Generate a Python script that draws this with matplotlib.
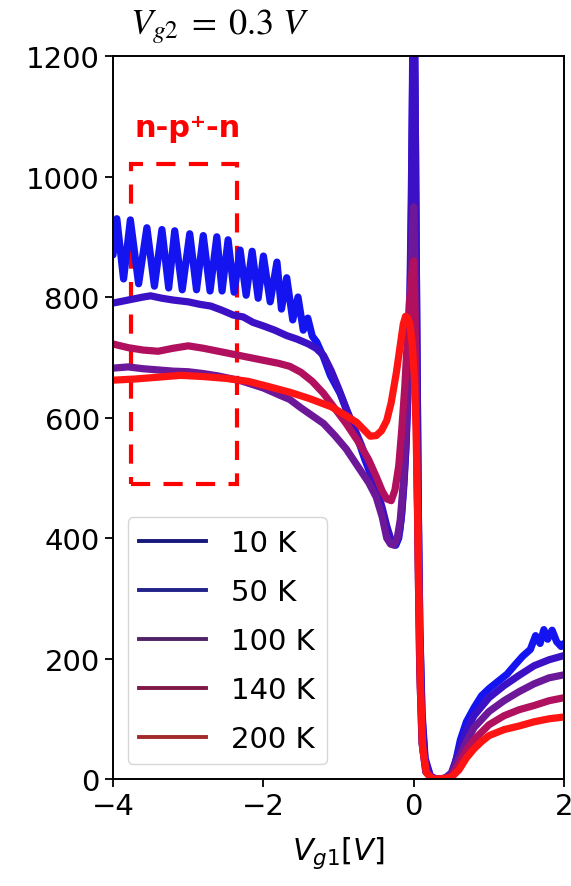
import matplotlib
matplotlib.use("Agg")
import matplotlib.pyplot as plt
from matplotlib.lines import Line2D
from matplotlib.patches import Rectangle

labels = ["10 K", "50 K", "100 K", "140 K", "200 K"]

x10 = [-4.0, -3.95, -3.86, -3.77, -3.66, -3.55, -3.45, -3.35, -3.26, -3.18, -3.08,
       -2.98, -2.89, -2.80, -2.71, -2.62, -2.55, -2.47, -2.39, -2.31, -2.23, -2.15,
       -2.07, -2.00, -1.91, -1.82, -1.76, -1.69, -1.61, -1.54, -1.47, -1.41, -1.35,
       -1.29, -1.2, -1.11, -0.98, -0.87, -0.76, -0.65, -0.54, -0.47, -0.41, -0.36,
       -0.32, -0.28, -0.24, -0.2, -0.17, -0.14, -0.11, -0.09, -0.07, -0.05, -0.03,
       -0.015, 0.0, 0.02, 0.04, 0.06, 0.08, 0.11, 0.15, 0.22, 0.3, 0.4, 0.48, 0.55,
       0.62, 0.7, 0.8, 0.9, 1.0, 1.1, 1.24, 1.35, 1.45, 1.55, 1.62, 1.68, 1.73, 1.78,
       1.84, 1.9, 1.96, 2.0]
y10 = [870, 930, 830, 928, 822, 915, 818, 912, 815, 910, 812,
       905, 812, 902, 810, 900, 810, 895, 808, 878, 803, 876,
       798, 868, 792, 858, 780, 832, 762, 800, 745, 765, 735,
       725, 700, 670, 640, 605, 570, 530, 495, 465, 440, 415,
       400, 392, 388, 400, 430, 480, 540, 600, 680, 780, 950,
       1200, 1450, 1100, 750, 450, 250, 110, 35, 5, -5, -8, 0, 25,
       65, 95, 118, 138, 150, 160, 174, 190, 204, 215, 238, 225, 248, 232,
       247, 228, 220, 225]

x50 = [-4.0, -3.8, -3.6, -3.5, -3.35, -3.2, -3.0, -2.85, -2.7, -2.55, -2.4, -2.27,
       -2.14, -2.0, -1.85, -1.69, -1.55, -1.4, -1.3, -1.2, -1.1, -1.0, -0.9, -0.8,
       -0.7, -0.6, -0.5, -0.42, -0.36, -0.31, -0.27, -0.23, -0.19, -0.16, -0.13,
       -0.1, -0.08, -0.06, -0.04, -0.02, 0.0, 0.02, 0.04, 0.06, 0.08, 0.11, 0.15,
       0.22, 0.3, 0.4, 0.5, 0.6, 0.7, 0.8, 1.0, 1.2, 1.4, 1.6, 1.8, 2.0]
y50 = [790, 795, 800, 802, 798, 795, 792, 788, 785, 778, 770, 767,
       758, 752, 745, 736, 730, 722, 715, 703, 678, 648, 615, 585,
       555, 522, 485, 450, 420, 400, 392, 395, 410, 440, 490,
       560, 640, 740, 900, 1100, 1350, 1100, 750, 450, 250, 100, 30,
       5, 0, 0, 10, 45, 80, 105, 135, 155, 172, 188, 198, 205]

x100 = [-4.0, -3.8, -3.6, -3.4, -3.2, -3.0, -2.8, -2.6, -2.3, -2.0, -1.8, -1.65,
        -1.5, -1.35, -1.2, -1.05, -0.9, -0.75, -0.6, -0.5, -0.42, -0.36, -0.31,
        -0.26, -0.22, -0.18, -0.14, -0.11, -0.08, -0.05, -0.03, -0.015, 0.0, 0.02,
        0.04, 0.06, 0.08, 0.11, 0.16, 0.25, 0.35, 0.45, 0.5, 0.6, 0.7, 0.8, 1.0,
        1.2, 1.4, 1.6, 1.8, 2.0]
y100 = [682, 684, 681, 679, 677, 676, 673, 669, 661, 649, 638, 630,
        616, 603, 590, 570, 548, 520, 492, 468, 435, 400, 390,
        388, 400, 430, 490, 560, 650, 760, 850, 920, 950, 800,
        560, 350, 180, 60, 12, 0, 0, 3, 8, 35, 62, 85, 112,
        130, 145, 158, 168, 173]

x140 = [-4.0, -3.8, -3.6, -3.4, -3.2, -3.0, -2.8, -2.6, -2.4, -2.2, -2.0, -1.8,
        -1.65, -1.5, -1.35, -1.2, -1.05, -0.9, -0.75, -0.6, -0.5, -0.42, -0.36,
        -0.3, -0.25, -0.2, -0.16, -0.12, -0.09, -0.06, -0.03, -0.015, 0.0, 0.02,
        0.04, 0.06, 0.08, 0.11, 0.16, 0.25, 0.35, 0.45, 0.5, 0.6, 0.7, 0.8, 1.0,
        1.2, 1.4, 1.6, 1.8, 2.0]
y140 = [722, 716, 712, 710, 715, 719, 715, 710, 705, 700, 695, 690,
        685, 675, 660, 640, 615, 590, 562, 530, 502, 478, 465,
        462, 480, 520, 580, 650, 720, 790, 830, 850, 860, 740,
        540, 340, 180, 60, 12, 0, 0, 2, 5, 25, 48, 65, 90,
        105, 115, 122, 130, 135]

x200 = [-4.0, -3.7, -3.4, -3.1, -2.8, -2.5, -2.2, -1.95, -1.65, -1.4, -1.1, -0.9,
        -0.76, -0.65, -0.58, -0.5, -0.43, -0.36, -0.3, -0.23, -0.18, -0.14, -0.11,
        -0.08, -0.05, -0.02, 0.01, 0.03, 0.05, 0.07, 0.09, 0.12, 0.17, 0.25, 0.35,
        0.45, 0.5, 0.6, 0.7, 0.8, 0.9, 1.0, 1.2, 1.4, 1.6, 1.8, 2.0]
y200 = [662, 664, 667, 670, 668, 665, 660, 652, 642, 632, 618, 603,
        592, 578, 569, 570, 578, 595, 625, 676, 720, 755, 768,
        765, 755, 720, 660, 580, 450, 300, 150, 50, 10, 0, 0,
        2, 3, 15, 35, 50, 62, 72, 82, 88, 95, 100, 103]

xs = [x10, x50, x100, x140, x200]
ys = [y10, y50, y100, y140, y200]
line_colors = ["#1414f0", "#3c10c4", "#6c1898", "#b0105e", "#ff1414"]
legend_colors = ["#18187c", "#22228c", "#522266", "#7e1846", "#a42a2a"]

# n-p+-n box: x range, y range
box_x = [-3.76, -2.35]
box_y = [490, 1020]

fig = plt.figure(figsize=(5.71, 8.87), dpi=100)
ax = fig.add_axes([0.198, 0.1206, 0.79, 0.8151])

for x, y, c in zip(xs, ys, line_colors):
    ax.plot(x, y, color=c, lw=5.2, solid_joinstyle="round", solid_capstyle="round")

ax.add_patch(Rectangle((box_x[0], box_y[0]), box_x[1] - box_x[0], box_y[1] - box_y[0],
                       fill=False, edgecolor="#ff0000", lw=3.0, linestyle=(0, (4.6, 3.2))))
ax.text(sum(box_x) / 2 + 0.05, 1082, "n-p\u207a-n", color="#ff0000", fontsize=22,
        fontweight="bold", ha="center", va="center")

ax.set_xlim(-4, 2)
ax.set_ylim(0, 1200)
ax.set_xticks([-4, -2, 0, 2])
ax.set_yticks([0, 200, 400, 600, 800, 1000, 1200])
ax.tick_params(labelsize=21, length=6, width=1.3)
for s in ax.spines.values():
    s.set_linewidth(1.4)

ax.set_xlabel("$V_{g1}[V]$", fontsize=22, labelpad=10)
fig.text(0.228, 0.970, r"$V_{g2}\;=\;0.3\ V$", fontsize=26, math_fontfamily="stix",
         ha="left", va="center")

handles = [Line2D([], [], color=c, lw=2.8) for c in legend_colors]
ax.legend(handles, labels, loc="lower left", fontsize=21, handlelength=2.3,
          handletextpad=0.85, labelspacing=0.72, borderaxespad=0.5)

fig.savefig("out.png", dpi=100)
